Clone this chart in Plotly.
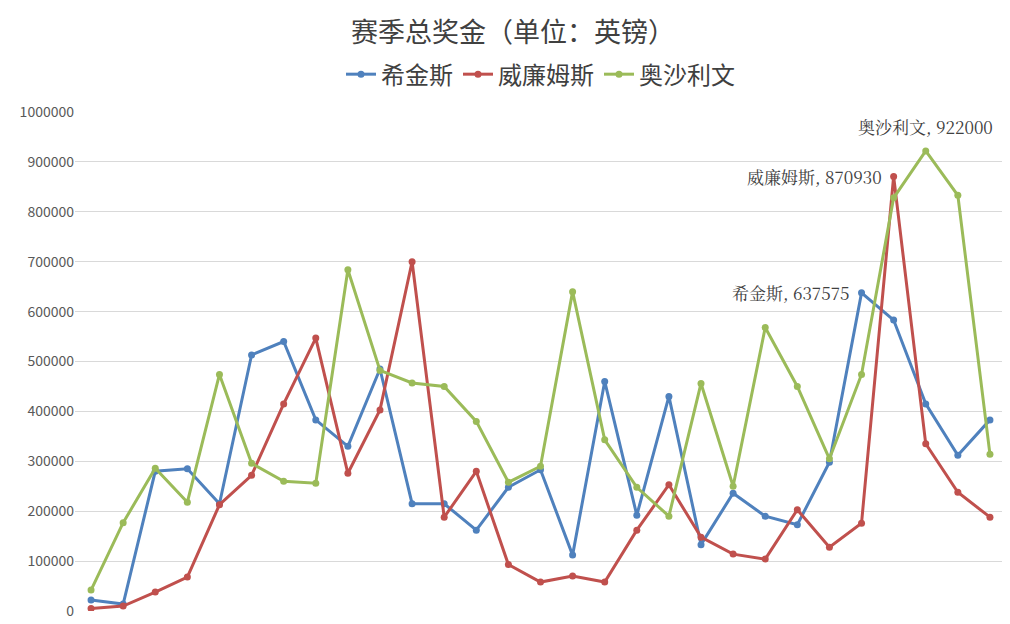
import plotly.graph_objects as go

x = list(range(1, 30))
hijins = [22000,14000,280000,285000,215000,513000,540000,383000,330000,485000,215000,215000,162000,248000,283000,112000,460000,192000,430000,133000,236000,190000,173000,298000,637575,583000,415000,312000,383000]
williams = [5000,10000,38000,68000,213000,272000,415000,547000,276000,403000,700000,188000,280000,93000,58000,70000,58000,162000,253000,148000,114000,104000,203000,128000,176000,870930,335000,238000,188000]
osullivan = [42000,177000,286000,218000,474000,296000,260000,256000,684000,482000,457000,450000,380000,258000,290000,640000,343000,248000,190000,456000,250000,568000,450000,305000,474000,828000,922000,833000,314000]
names = ["希金斯", "威廉姆斯", "奥沙利文"]
colors = ["#4f81bd", "#c0504d", "#9bbb59"]
label_pos = [("right", "middle", -10, 0), ("right", "middle", -10, 0), ("center", "bottom", 0, 10)]

fig = go.Figure()
for n, ys, c, (xa, ya, xs, ysh) in zip(names, [hijins, williams, osullivan], colors, label_pos):
    fig.add_trace(go.Scatter(x=x, y=ys, name=n, mode="lines+markers",
                             line=dict(color=c, width=3), marker=dict(size=7, color=c)))
    i = ys.index(max(ys))
    fig.add_annotation(x=x[i], y=ys[i], text=f"{n}, {ys[i]}", showarrow=False,
                       xanchor=xa, yanchor=ya, xshift=xs, yshift=ysh,
                       font=dict(size=17, color="#404040", family="Noto Serif CJK SC, Noto Sans CJK SC, serif"))

fig.update_layout(
    width=1010, height=624, plot_bgcolor="white", paper_bgcolor="white",
    font=dict(family="Noto Sans CJK SC, sans-serif", color="#595959"),
    title=dict(text="赛季总奖金（单位：英镑）", x=0.5, xanchor="center", y=0.96, yanchor="middle",
               font=dict(size=27, color="#404040")),
    legend=dict(orientation="h", x=0.5, xanchor="center", y=1.075, yanchor="middle",
                font=dict(size=24, color="#404040")),
    margin=dict(l=63, r=12, t=104, b=16), showlegend=True,
)
fig.update_xaxes(range=[0.5, 29.5], showticklabels=False, showgrid=False, zeroline=False)
fig.update_yaxes(range=[0, 1000000], dtick=100000, tickformat="d", gridcolor="#d9d9d9",
                 zeroline=False, tickfont=dict(size=14, color="#595959"), showline=False,
                 ticklen=0)
fig.write_html("out.html")
